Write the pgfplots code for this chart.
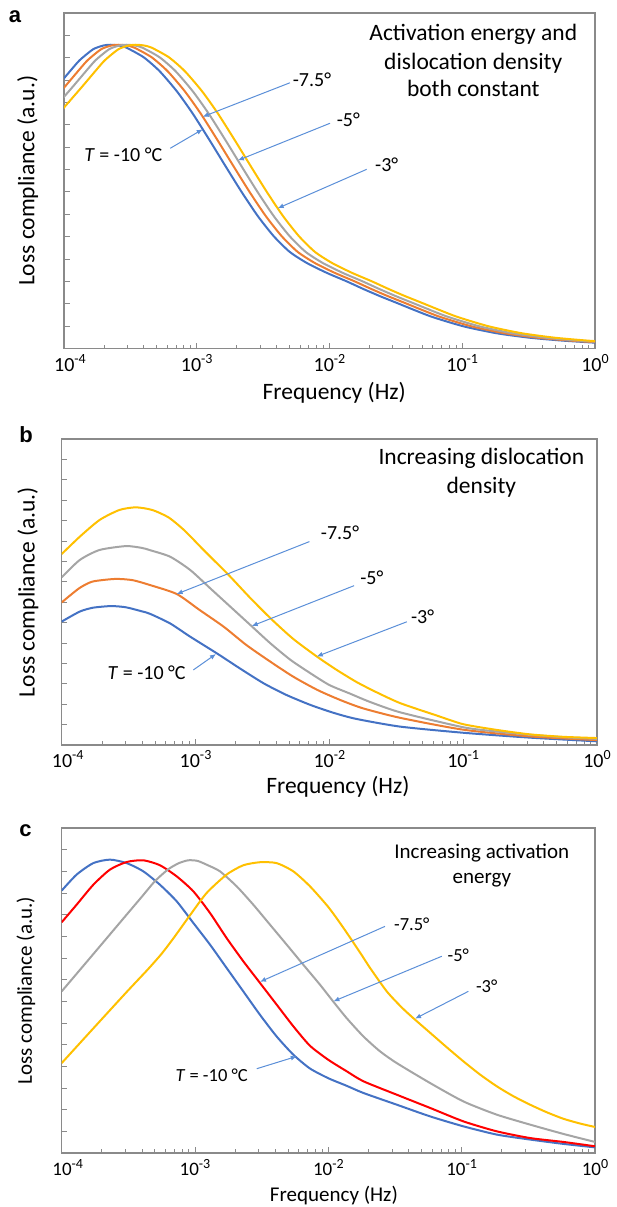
\documentclass[border=0pt]{standalone}
\usepackage{pgfplots}
\pgfplotsset{compat=1.18}
\usepackage{fontspec}
\setmainfont{Carlito}
\newfontfamily\letterfont{Liberation Sans}
\usetikzlibrary{arrows.meta}

\definecolor{cblue}{HTML}{4472C4}
\definecolor{corange}{HTML}{ED7D31}
\definecolor{cgray}{HTML}{A5A5A5}
\definecolor{cgold}{HTML}{FFC000}
\definecolor{cred}{HTML}{FF0000}
\definecolor{carrow}{HTML}{5B8FD8}
\definecolor{caxis}{HTML}{8A8A8A}

\newcommand\fA{\fontsize{23.5}{28}\selectfont}
\newcommand\fC{\fontsize{21}{25}\selectfont}
\newcommand\tA{\fontsize{20}{24}\selectfont}
\newcommand\tC{\fontsize{19}{23}\selectfont}
\newcommand\lA{\fontsize{20}{24}\selectfont}
\newcommand\lC{\fontsize{18.5}{22}\selectfont}
\newcommand\expo[1]{\raisebox{0.42em}{\fontsize{14}{14}\selectfont #1}}

\tikzset{arr/.style={draw=carrow, line width=1pt, -{Latex[length=6pt,width=5pt]}}}

\pgfplotsset{
  panel/.style={
    scale only axis, anchor=south west,
    xmin=-4, xmax=0, ymin=0, ymax=15,
    xtick={-4,-3,-2,-1,0},
    xticklabels={\hspace*{12pt}10\expo{-4},10\expo{-3},10\expo{-2},10\expo{-1},10\expo{0}},
    minor xtick={-3.69897,-3.52288,-3.39794,-3.30103,-3.22185,-3.15490,-3.09691,-3.04576,
      -2.69897,-2.52288,-2.39794,-2.30103,-2.22185,-2.15490,-2.09691,-2.04576,
      -1.69897,-1.52288,-1.39794,-1.30103,-1.22185,-1.15490,-1.09691,-1.04576,
      -0.69897,-0.52288,-0.39794,-0.30103,-0.22185,-0.15490,-0.09691,-0.04576},
    ytick={1,2,...,14},
    yticklabels={},
    tick align=inside, tick pos=left,
    major tick length=5.5pt, minor tick length=3.5pt,
    axis line style={draw=caxis, line width=1.2pt},
    every tick/.append style={draw=caxis, line width=0.9pt},
    xticklabel style={anchor=base, yshift=-23pt},
    ylabel={Loss compliance (a.u.)},
    xlabel={Frequency (Hz)},
    every axis plot/.append style={line width=2pt, smooth, tension=0.4},
  },
}

\begin{document}
\begin{tikzpicture}
\useasboundingbox (0,0) rectangle (616pt,1207pt);

% panel letters
\node[anchor=base, font=\letterfont\bfseries\fontsize{22}{26}\selectfont, inner sep=0pt] at (15pt,1184pt) {a};
\node[anchor=base, font=\letterfont\bfseries\fontsize{22}{26}\selectfont, inner sep=0pt] at (26pt,764pt) {b};
\node[anchor=base, font=\letterfont\bfseries\fontsize{22}{26}\selectfont, inner sep=0pt] at (25.4pt,370pt) {c};

%%%%%%%%%%%%%%%%%%%% PANEL A
\begin{axis}[panel, at={(64pt,858.5pt)}, width=531pt, height=335.5pt,
  tick label style={font=\tA},
  label style={font=\fA},
  xlabel style={at={(axis description cs:0.509,-0.1535)}, anchor=base},
  ylabel style={at={(axis description cs:-0.0556,0.5)}, anchor=base}]
% T = -10
\addplot[cblue] coordinates {
(-4.20,10.70) (-4.12,11.25) (-4.06,11.66) (-4.00,12.08) (-3.94,12.50) (-3.88,12.90)
(-3.78,13.38) (-3.70,13.55) (-3.65,13.58) (-3.59,13.55) (-3.53,13.45) (-3.40,13.02)
(-3.28,12.40) (-3.15,11.50) (-3.03,10.50) (-2.90,9.28) (-2.78,8.12) (-2.66,6.98)
(-2.54,5.92) (-2.42,5.02) (-2.30,4.32) (-2.17,3.82) (-2.02,3.38) (-1.87,3.00)
(-1.745,2.66) (-1.62,2.34) (-1.49,2.03) (-1.24,1.44) (-0.99,0.99) (-0.74,0.68)
(-0.49,0.48) (-0.24,0.35) (0.00,0.26) };
% -7.5
\addplot[corange] coordinates {
(-4.14,10.70) (-4.06,11.25) (-4.00,11.66) (-3.94,12.08) (-3.88,12.50) (-3.82,12.90)
(-3.72,13.38) (-3.64,13.55) (-3.59,13.58) (-3.53,13.55) (-3.47,13.45) (-3.34,13.02)
(-3.22,12.40) (-3.09,11.50) (-2.97,10.50) (-2.84,9.28) (-2.72,8.12) (-2.60,6.98)
(-2.48,5.92) (-2.36,5.02) (-2.24,4.32) (-2.11,3.82) (-1.96,3.38) (-1.81,3.00)
(-1.685,2.66) (-1.56,2.34) (-1.43,2.03) (-1.18,1.44) (-0.93,0.99) (-0.68,0.68)
(-0.43,0.48) (-0.18,0.35) (0.06,0.26) };
% -5
\addplot[cgray] coordinates {
(-4.08,10.70) (-4.00,11.25) (-3.94,11.66) (-3.88,12.08) (-3.82,12.50) (-3.76,12.90)
(-3.66,13.38) (-3.58,13.55) (-3.53,13.58) (-3.47,13.55) (-3.41,13.45) (-3.28,13.02)
(-3.16,12.40) (-3.03,11.50) (-2.91,10.50) (-2.78,9.28) (-2.66,8.12) (-2.54,6.98)
(-2.42,5.92) (-2.30,5.02) (-2.18,4.32) (-2.05,3.82) (-1.90,3.38) (-1.75,3.00)
(-1.625,2.66) (-1.50,2.34) (-1.37,2.03) (-1.12,1.44) (-0.87,0.99) (-0.62,0.68)
(-0.37,0.48) (-0.12,0.35) (0.12,0.26) };
% -3
\addplot[cgold] coordinates {
(-4.09,10.10) (-4.01,10.70) (-3.93,11.25) (-3.87,11.66) (-3.81,12.08) (-3.75,12.50)
(-3.69,12.90) (-3.59,13.38) (-3.51,13.55) (-3.46,13.58) (-3.40,13.55) (-3.34,13.45)
(-3.21,13.02) (-3.09,12.40) (-2.96,11.50) (-2.84,10.50) (-2.71,9.28) (-2.59,8.12)
(-2.47,6.98) (-2.35,5.92) (-2.23,5.02) (-2.11,4.32) (-1.98,3.82) (-1.83,3.38)
(-1.68,3.00) (-1.555,2.66) (-1.43,2.34) (-1.30,2.03) (-1.05,1.44) (-0.80,0.99)
(-0.55,0.68) (-0.30,0.48) (-0.05,0.35) (0.19,0.26) };

\node[anchor=base, font=\fA] at (axis cs:-0.917,13.76) {Activation energy and};
\node[anchor=base, font=\fA] at (axis cs:-0.917,12.49) {dislocation density};
\node[anchor=base, font=\fA] at (axis cs:-0.917,11.27) {both constant};

\node[font=\lA] at (axis cs:-2.132,12.0) {-7.5°};
\node[font=\lA] at (axis cs:-1.858,10.21) {-5°};
\node[font=\lA] at (axis cs:-1.569,8.20) {-3°};
\node[font=\lA] at (axis cs:-3.553,8.65) {\textit{T} = -10 °C};
\draw[arr] (axis cs:-2.298,11.88) -- (axis cs:-2.955,10.36);
\draw[arr] (axis cs:-1.996,10.07) -- (axis cs:-2.69,8.41);
\draw[arr] (axis cs:-1.720,8.01) -- (axis cs:-2.39,6.27);
\draw[arr] (axis cs:-3.20,8.95) -- (axis cs:-2.955,9.80);
\end{axis}

%%%%%%%%%%%%%%%%%%%% PANEL B
\begin{axis}[panel, at={(61.7pt,462pt)}, width=535.3pt, height=306pt,
  tick label style={font=\tA},
  label style={font=\fA},
  xlabel style={at={(axis description cs:0.516,-0.158)}, anchor=base},
  ylabel style={at={(axis description cs:-0.0508,0.5)}, anchor=base}]
\addplot[cblue] coordinates {
(-4.00,6.05) (-3.865,6.54) (-3.766,6.73) (-3.63,6.81) (-3.52,6.75) (-3.40,6.55)
(-3.34,6.43) (-3.19,5.96) (-3.04,5.31) (-2.84,4.49) (-2.67,3.76) (-2.49,3.02)
(-2.32,2.45) (-2.14,1.96) (-1.97,1.58) (-1.80,1.28) (-1.47,0.90) (-1.00,0.60)
(-0.50,0.36) (0.00,0.18) };
\addplot[corange] coordinates {
(-4.00,6.99) (-3.87,7.68) (-3.77,8.01) (-3.60,8.14) (-3.47,8.08) (-3.34,7.84)
(-3.14,7.40) (-2.97,6.62) (-2.79,5.80) (-2.62,4.90) (-2.44,4.08) (-2.27,3.35)
(-2.09,2.70) (-1.92,2.21) (-1.75,1.80) (-1.47,1.33) (-1.00,0.75) (-0.50,0.42)
(0.00,0.24) };
\addplot[cgray] coordinates {
(-4.00,8.22) (-3.865,9.07) (-3.717,9.56) (-3.52,9.75) (-3.40,9.66) (-3.34,9.55)
(-3.19,9.23) (-3.04,8.58) (-2.89,7.68) (-2.74,6.78) (-2.59,5.88) (-2.44,4.98)
(-2.29,4.17) (-2.14,3.51) (-2.00,2.94) (-1.85,2.53) (-1.70,2.12) (-1.47,1.60)
(-1.00,0.87) (-0.75,0.66) (-0.50,0.50) (-0.25,0.38) (0.00,0.30) };
\addplot[cgold] coordinates {
(-4.00,9.36) (-3.865,10.21) (-3.717,11.03) (-3.569,11.52) (-3.446,11.65) (-3.323,11.52)
(-3.20,11.15) (-3.08,10.50) (-2.94,9.56) (-2.755,8.35) (-2.59,7.20) (-2.43,6.15)
(-2.27,5.20) (-2.09,4.32) (-1.945,3.68) (-1.795,3.08) (-1.646,2.58) (-1.47,2.05)
(-1.20,1.45) (-1.00,1.02) (-0.75,0.74) (-0.50,0.52) (-0.25,0.40) (0.00,0.34) };

\node[anchor=base, font=\fA] at (axis cs:-0.864,13.75) {Increasing dislocation};
\node[anchor=base, font=\fA] at (axis cs:-0.864,12.35) {density};

\node[font=\lA] at (axis cs:-1.92,10.38) {-7.5°};
\node[font=\lA] at (axis cs:-1.683,8.22) {-5°};
\node[font=\lA] at (axis cs:-1.303,6.29) {-3°};
\node[font=\lA] at (axis cs:-3.365,3.55) {\textit{T} = -10 °C};
\draw[arr] (axis cs:-2.149,9.97) -- (axis cs:-3.141,7.40);
\draw[arr] (axis cs:-1.815,7.81) -- (axis cs:-2.580,5.83);
\draw[arr] (axis cs:-1.421,6.04) -- (axis cs:-2.094,4.34);
\draw[arr] (axis cs:-3.016,3.68) -- (axis cs:-2.847,4.46);
\end{axis}

%%%%%%%%%%%%%%%%%%%% PANEL C
\begin{axis}[panel, at={(61.7pt,54pt)}, width=533.3pt, height=325pt,
  tick label style={font=\tC},
  label style={font=\fC},
  xlabel style={at={(axis description cs:0.5105,-0.15)}, anchor=base},
  ylabel style={at={(axis description cs:-0.0557,0.5)}, anchor=base}]
\addplot[cblue] coordinates {
(-4.00,12.11) (-3.888,12.85) (-3.763,13.38) (-3.638,13.54) (-3.513,13.38) (-3.388,13.00)
(-3.263,12.38) (-3.138,11.62) (-3.013,10.62) (-2.888,9.62) (-2.763,8.54) (-2.638,7.46)
(-2.513,6.38) (-2.388,5.38) (-2.263,4.54) (-2.138,3.90) (-2.00,3.45) (-1.862,3.10)
(-1.737,2.77) (-1.487,2.23) (-1.237,1.69) (-0.987,1.23) (-0.737,0.85) (-0.487,0.62)
(-0.237,0.42) (0.00,0.26) };
\addplot[cred] coordinates {
(-4.00,10.65) (-3.888,11.46) (-3.763,12.38) (-3.638,13.08) (-3.513,13.43) (-3.388,13.51)
(-3.263,13.28) (-3.138,12.77) (-3.013,12.08) (-2.888,11.08) (-2.763,9.92) (-2.638,8.85)
(-2.513,7.85) (-2.388,6.85) (-2.263,5.85) (-2.138,4.95) (-2.00,4.30) (-1.862,3.77)
(-1.737,3.31) (-1.487,2.69) (-1.237,2.08) (-0.987,1.46) (-0.737,1.00) (-0.487,0.69)
(-0.237,0.51) (0.00,0.31) };
\addplot[cgray] coordinates {
(-4.00,7.46) (-3.763,9.18) (-3.513,11.00) (-3.40,11.82) (-3.30,12.55) (-3.20,13.10)
(-3.12,13.38) (-3.05,13.51) (-2.98,13.48) (-2.90,13.27) (-2.813,13.00) (-2.688,12.31)
(-2.563,11.46) (-2.438,10.54) (-2.313,9.62) (-2.188,8.69) (-2.063,7.77) (-1.962,6.98)
(-1.862,6.22) (-1.737,5.38) (-1.612,4.69) (-1.487,4.15) (-1.237,3.23) (-0.987,2.38)
(-0.737,1.77) (-0.487,1.31) (-0.237,0.88) (0.00,0.51) };
\addplot[cgold] coordinates {
(-4.00,4.15) (-3.763,5.75) (-3.513,7.43) (-3.35,8.50) (-3.25,9.20) (-3.163,9.90)
(-3.038,10.97) (-2.913,12.00) (-2.763,12.85) (-2.638,13.28) (-2.513,13.42) (-2.388,13.38)
(-2.263,13.00) (-2.138,12.31) (-2.00,11.35) (-1.888,10.40) (-1.762,9.25) (-1.687,8.54)
(-1.562,7.46) (-1.45,6.72) (-1.362,6.22) (-1.237,5.55) (-1.112,4.88) (-0.987,4.23)
(-0.862,3.62) (-0.737,3.08) (-0.612,2.62) (-0.487,2.23) (-0.362,1.88) (-0.237,1.58)
(-0.112,1.36) (0.00,1.20) };

\node[anchor=base, font=\fC] at (axis cs:-0.849,13.60) {Increasing activation};
\node[anchor=base, font=\fC] at (axis cs:-0.849,12.46) {energy};

\node[font=\lC] at (axis cs:-1.374,10.54) {-7.5°};
\node[font=\lC] at (axis cs:-1.025,9.15) {-5°};
\node[font=\lC] at (axis cs:-0.812,7.69) {-3°};
\node[font=\lC] at (axis cs:-2.875,3.61) {\textit{T} = -10 °C};
\draw[arr] (axis cs:-1.575,10.46) -- (axis cs:-2.513,7.90);
\draw[arr] (axis cs:-1.149,9.08) -- (axis cs:-1.962,7.0);
\draw[arr] (axis cs:-0.950,7.46) -- (axis cs:-1.350,6.20);
\draw[arr] (axis cs:-2.537,3.89) -- (axis cs:-2.237,4.46);
\end{axis}
\end{tikzpicture}
\end{document}
